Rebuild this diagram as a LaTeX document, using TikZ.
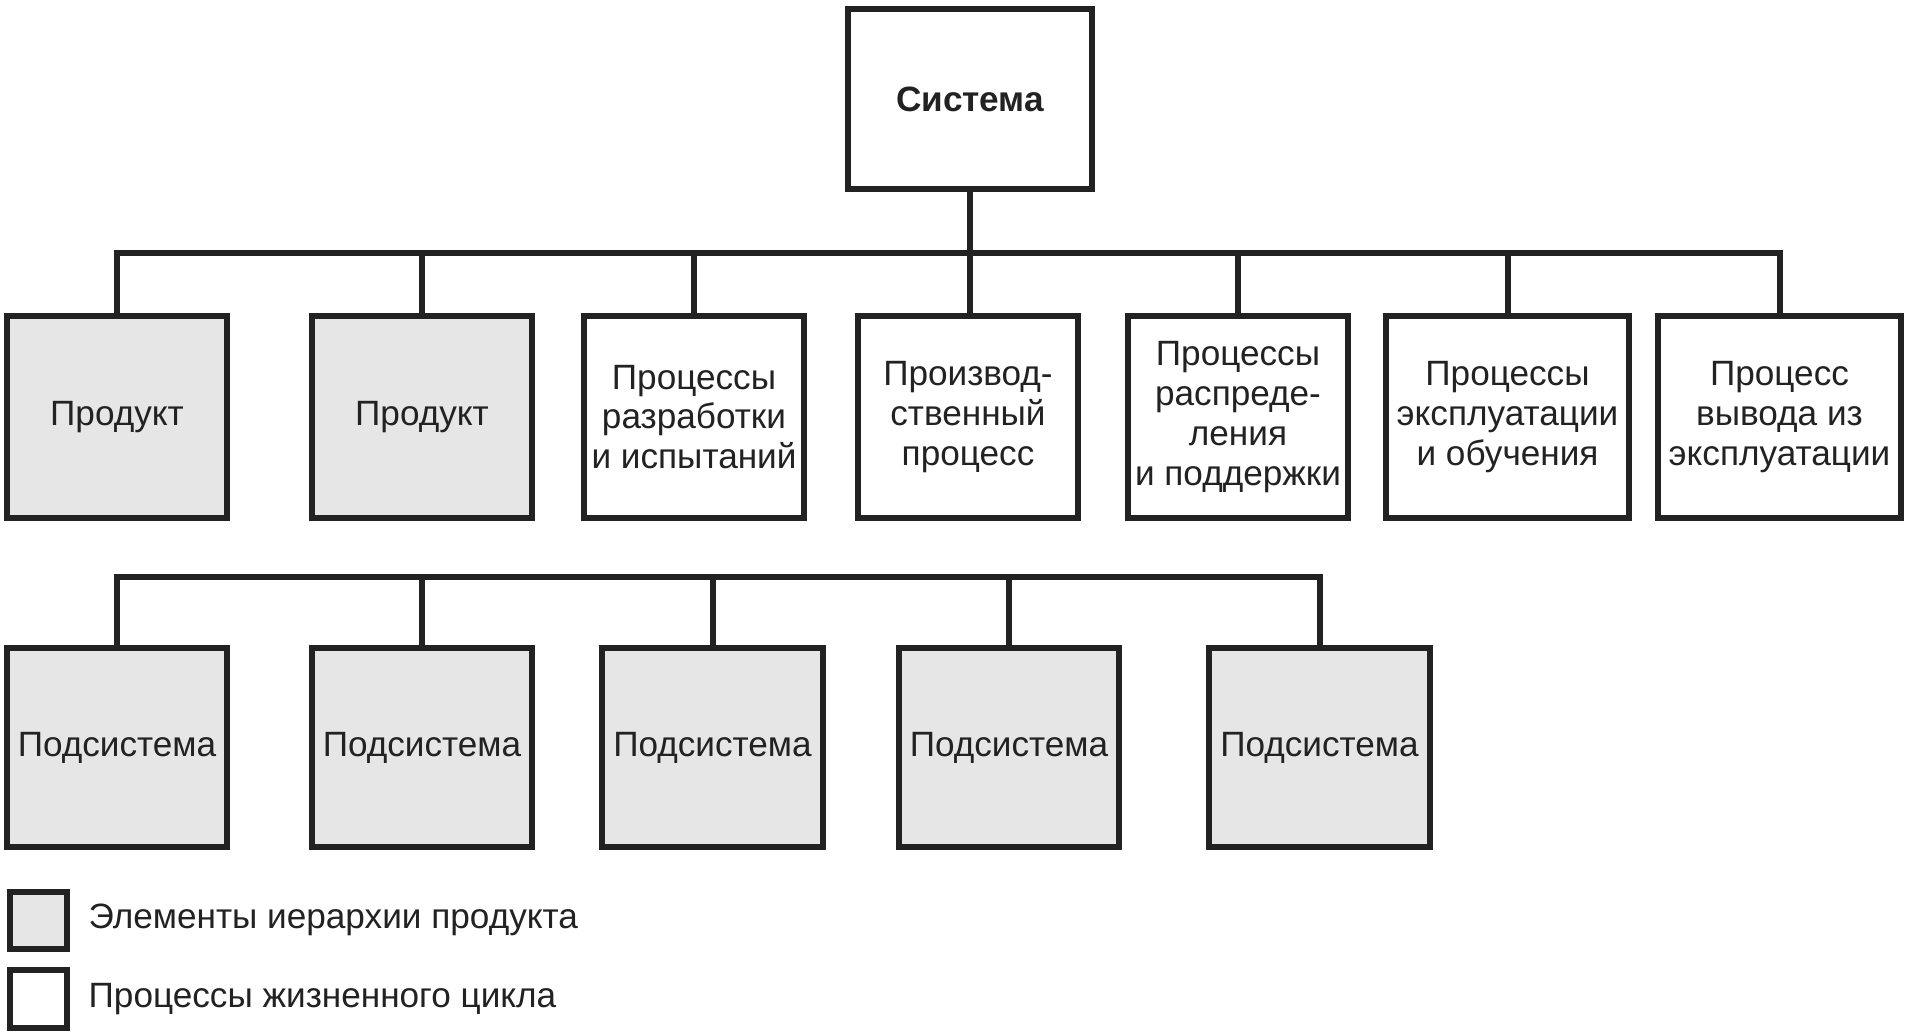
\documentclass[tikz,border=0pt]{standalone}
\usepackage{fontspec}
\setmainfont{Liberation Sans}
\definecolor{ink}{HTML}{222222}
\definecolor{prodgray}{HTML}{E6E6E6}
\begin{document}
\begin{tikzpicture}[x=0.01cm,y=-0.01cm,
        every node/.style={font=\fontsize{10}{11.3}\selectfont, text=ink},
        wire/.style={draw=ink, line width=0.06cm},
        box/.style={wire, inner sep=0pt, align=center, minimum width=2.2cm, minimum height=2.02cm},
        widebox/.style={box, minimum width=2.43cm},
        prodbox/.style={box, fill=prodgray},
        subbox/.style={prodbox, minimum height=1.99cm},
        keybox/.style={wire, inner sep=0pt, minimum size=0.57cm}]
                \useasboundingbox (0, 0) rectangle (1905, 1033);
                \node [box, minimum width=2.44cm, minimum height=1.8cm, font=\fontsize{10}{11.3}\selectfont\bfseries] (0) at (970, 99) {Система};
                \node [prodbox] (1) at (117, 417) {Продукт};
                \node [prodbox] (2) at (422, 417) {Продукт};
                \node [box] (3) at (694, 417) {Процессы\\разработки\\и испытаний};
                \node [box] (4) at (968, 417) {Производ-\\ственный\\процесс};
                \node [box] (5) at (1238, 417) {Процессы\\распреде-\\ления\\и поддержки};
                \node [widebox] (6) at (1507.5, 417) {Процессы\\эксплуатации\\и обучения};
                \node [widebox] (7) at (1779.5, 417) {Процесс\\вывода из\\эксплуатации};
                \node  (11) at (117, 253) {};
                \node  (12) at (422, 253) {};
                \node  (13) at (694, 253) {};
                \node  (14) at (970, 253) {};
                \node  (15) at (1238, 253) {};
                \node  (16) at (1507.5, 253) {};
                \node  (17) at (1779.5, 253) {};
                \node [subbox] (21) at (117, 747.5) {Подсистема};
                \node [subbox] (22) at (422, 747.5) {Подсистема};
                \node [subbox] (23) at (712.5, 747.5) {Подсистема};
                \node [subbox] (24) at (1009, 747.5) {Подсистема};
                \node [subbox] (25) at (1319.5, 747.5) {Подсистема};
                \node  (31) at (117, 577) {};
                \node  (32) at (422, 577) {};
                \node  (33) at (712.5, 577) {};
                \node  (34) at (1009, 577) {};
                \node  (35) at (1319.5, 577) {};
                \node [keybox, fill=prodgray] (41) at (38.5, 920.5) {};
                \node [keybox] (42) at (38.5, 999) {};
                \node [anchor=west, inner sep=0pt] (43) at (88, 920) {Элементы иерархии продукта};
                \node [anchor=west, inner sep=0pt] (44) at (88, 999) {Процессы жизненного цикла};
                \draw [wire] (0.south) to (14.center);
                \draw [wire] (1.north) -- (11.center) -- (17.center) -- (7.north);
                \draw [wire] (12.center) to (2.north);
                \draw [wire] (13.center) to (3.north);
                \draw [wire] (14.center) to (14.center |- 4.north);
                \draw [wire] (15.center) to (5.north);
                \draw [wire] (16.center) to (6.north);
                \draw [wire] (21.north) -- (31.center) -- (35.center) -- (25.north);
                \draw [wire] (32.center) to (22.north);
                \draw [wire] (33.center) to (23.north);
                \draw [wire] (34.center) to (24.north);
\end{tikzpicture}
\end{document}
